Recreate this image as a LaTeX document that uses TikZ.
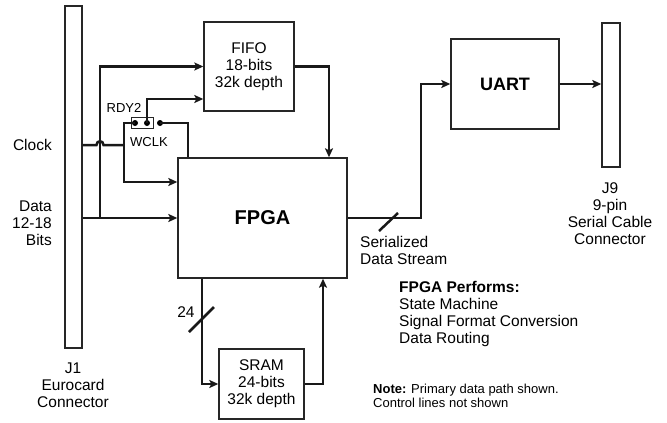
\documentclass[tikz,border=0pt]{standalone}
\usepackage{fontspec}
\setmainfont{Liberation Sans}
\usetikzlibrary{arrows.meta,calc}

\tikzset{
  blk/.style={draw=black!85, line width=1.4pt, align=center, inner sep=0pt,
    font=\fontsize{15.5}{17}\selectfont},
  conn/.style={draw=black!85, line width=1.4pt},
  wire/.style={line width=2.5pt, black!90},
  arr/.style={wire, -{Stealth[length=9pt,width=8pt,inset=2pt]}},
  lbl/.style={font=\fontsize{15.5}{17}\selectfont, align=center, inner sep=0pt},
  small/.style={font=\fontsize{13}{14}\selectfont, align=left, inner sep=0pt},
}

\begin{document}
\begin{tikzpicture}[x=1pt,y=-1pt]
			%%%%% START %%%%%
			\useasboundingbox (0,0) rectangle (667,423);
			
			% edge connectors
			\node[conn, minimum width=17pt, minimum height=342pt] (j1) at (73.5,177) {};
			\node[conn, minimum width=18pt, minimum height=144pt] (j9) at (611,95) {};
			
			% blocks
			\node[blk, minimum width=90pt, minimum height=89pt] (fifo) at (249,66.5) {FIFO\\18-bits\\32k depth};
			\node[blk, minimum width=169pt, minimum height=120pt, font=\bfseries\fontsize{20}{24}\selectfont] (fpga) at (262.5,218) {FPGA};
			\node[blk, minimum width=108pt, minimum height=90pt, font=\bfseries\fontsize{18}{20}\selectfont] (uart) at (505,84) {UART};
			\node[blk, minimum width=85pt, minimum height=70pt] (sram) at (261.5,384) {SRAM\\24-bits\\32k depth};
			
			% jumper
			\node[draw=black!85, line width=0.9pt, minimum width=22pt, minimum height=11pt, inner sep=0pt] (jmp) at (142,122.5) {};
			\coordinate (p1) at (135,123);
			\coordinate (p2) at (147,123);
			\coordinate (p3) at (160,123);
			\foreach \p in {p1,p2,p3}
				\fill (\p) circle (3pt);
			
			% clock, hopping over the data riser
			\draw[wire] (j1.east |- 0,145) -- (96.5,145) .. controls (96.5,140) and (103.5,140) .. (103.5,145) -- (124,145);
			\draw[arr] (p1) -- (124,123) |- (fpga.west |- 0,182);
			\draw[arr] (p2) |- (fifo.west |- 0,99);
			\draw[wire] (p3) -| (188,0 |- fpga.north);
			
			% data
			\coordinate (rise) at (100,0 |- fpga.west);
			\draw[arr] (j1.east |- fpga.west) -- (fpga.west);
			\draw[arr] (rise) |- (fifo.west);
			\draw[arr] (fifo.east) -| (329,0 |- fpga.north);
			
			% sram loop
			\draw[arr] (202,0 |- fpga.south) |- (sram.west);
			\draw[arr] (sram.east) -| (323,0 |- fpga.south);
			\draw[wire] (189,332) -- (214,307);
			
			% serial out
			\draw[arr] (fpga.east) -- (421,0 |- fpga.east) |- (uart.west);
			\draw[wire] (379,231) -- (398,213);
			\draw[arr] (uart.east) -- (j9.west |- uart.east);
			
			% labels
			\node[lbl, anchor=east] (clklbl) at (52,145) {Clock};
			\node[lbl, anchor=east, align=right] (datalbl) at (52,223) {Data\\12-18\\Bits};
			\node[lbl] (j1lbl) at (73,385) {J1\\Eurocard\\Connector};
			\node[lbl] (j9lbl) at (610,214) {J9\\9-pin\\Serial Cable\\Connector};
			\node[lbl, anchor=west, align=left] (serlbl) at (360,250) {Serialized\\Data Stream};
			\node[lbl] (buslbl) at (186,312) {24};
			\node[lbl, anchor=west, align=left] (perflbl) at (399,314) {\textbf{FPGA Performs:}\\State Machine\\Signal Format Conversion\\Data Routing};
			\node[small, anchor=west] (notelbl) at (373,396) {\textbf{Note:} Primary data path shown.\\Control lines not shown};
			\node[small] (rdylbl) at (124,108) {RDY2};
			\node[small] (wclklbl) at (149,142) {WCLK};
			
			%%%%% END %%%%%
\end{tikzpicture}
\end{document}
